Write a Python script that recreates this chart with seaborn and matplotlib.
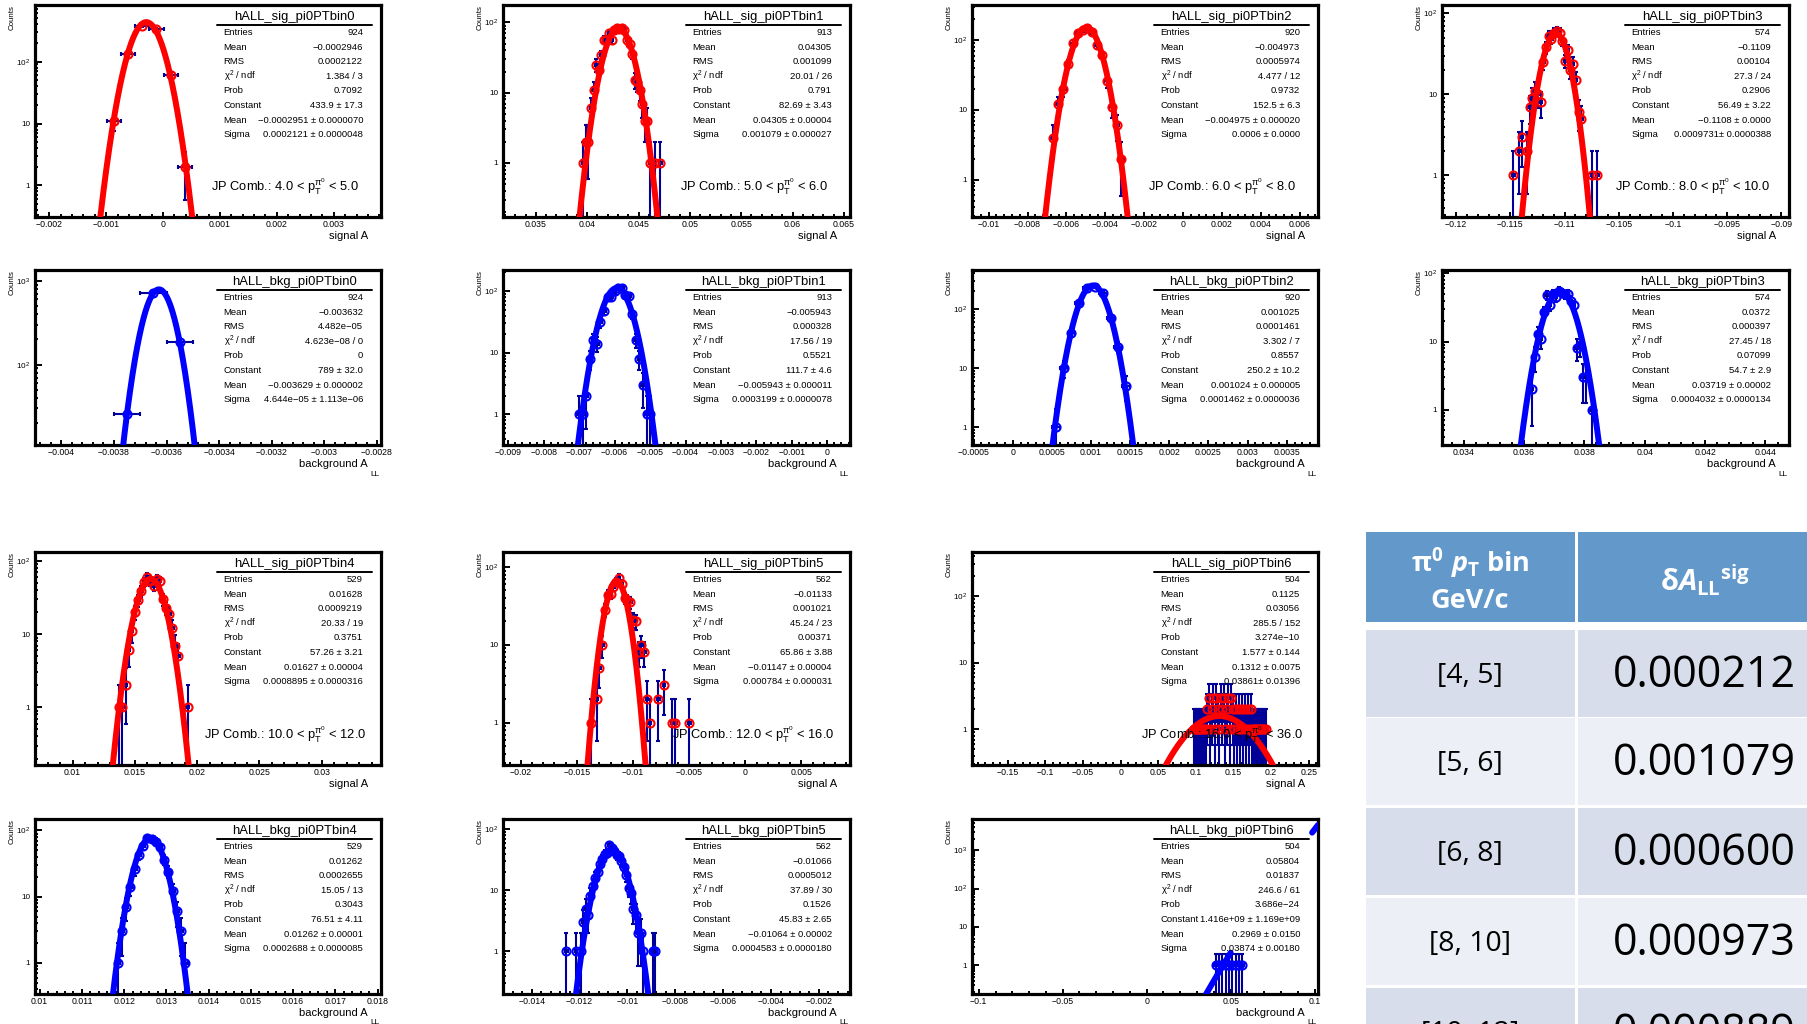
import numpy as np
import matplotlib
matplotlib.use("Agg")
import matplotlib.pyplot as plt
import seaborn as sns
from matplotlib.lines import Line2D
from matplotlib.patches import Rectangle
from matplotlib.ticker import (MultipleLocator, AutoMinorLocator, LogLocator,
                               FuncFormatter, NullFormatter)
from matplotlib.transforms import Bbox, TransformedBbox

M = "\u2212"

# ---------------- signal A_LL histograms: first-bin low edge, bin width, counts ----------------
sig0_lo, sig0_w = -0.00099, 0.00025
sig0_counts = [11, 135, 380, 335, 61, 2]
sig1_lo, sig1_w = 0.0395, 0.00025
sig1_counts = [1, 2, 2, 6, 11, 25, 21, 34, 56, 56, 70, 56, 78, 82, 80, 82, 78, 56, 50, 36,
               15, 14, 11, 7, 4, 4, 1, 0, 1, 0, 1]
sig2_lo, sig2_w = -0.006795, 0.00025
sig2_counts = [4, 12, 20, 46, 92, 125, 142, 151, 132, 85, 61, 26, 11, 6, 2]
sig3_lo, sig3_w = -0.114835, 0.00025
sig3_counts = [1, 0, 2, 3, 0, 2, 7, 9, 11, 10, 8, 25, 38, 53, 49, 58, 60, 58, 46, 26, 35, 20,
               24, 15, 6, 5, 0, 0, 0, 1, 0, 1]
sig4_lo, sig4_w = 0.013625, 0.00025
sig4_counts = [1, 1, 2, 6, 11, 20, 29, 39, 52, 60, 53, 46, 57, 53, 30, 23, 19, 12, 7, 5, 0, 0, 1]
sig5_lo, sig5_w = -0.013875, 0.00025
sig5_counts = [1, 0, 2, 5, 10, 28, 44, 45, 56, 65, 72, 60, 40, 37, 35, 21, 20, 8, 10, 8, 2, 1,
               0, 0, 2, 0, 3, 0, 0, 1, 1, 0, 0, 0, 0, 1]
sig6_lo, sig6_w = 0.096, 0.002
sig6_counts = [1, 1, 1, 1, 1, 1, 1, 1, 1, 2, 3, 1, 2, 3, 1, 3, 2, 1, 3, 2, 3, 1, 2, 3, 1, 3,
               2, 1, 2, 1, 2, 1, 2, 1, 2, 1, 2, 1, 2, 1, 1, 1, 1, 1, 1, 1, 1, 1, 1]

# ---------------- background A_LL histograms ----------------
bkg0_lo, bkg0_w = -0.0038, 0.0001
bkg0_counts = [26, 710, 188]
bkg1_lo, bkg1_w = -0.00705, 0.0001
bkg1_counts = [1, 1, 2, 8, 16, 14, 31, 47, 81, 81, 100, 114, 110, 85, 83, 42, 16, 8, 3, 1, 1]
bkg2_lo, bkg2_w = 0.0005, 0.0001
bkg2_counts = [1, 10, 40, 125, 230, 240, 185, 70, 23, 5]
bkg3_lo, bkg3_w = 0.0362, 0.0001
bkg3_counts = [2, 6, 13, 11, 27, 48, 34, 50, 45, 55, 52, 49, 50, 40, 34, 8, 9, 3, 3, 0, 1]
bkg4_lo, bkg4_w = 0.0118, 0.0001
bkg4_counts = [1, 3, 7, 14, 26, 42, 58, 76, 74, 68, 56, 36, 24, 12, 6, 3, 1]
bkg5_lo, bkg5_w = -0.0126, 0.0001
bkg5_counts = [1, 0, 0, 0, 1, 0, 1, 3, 5, 4, 8, 12, 16, 20, 27, 33, 40, 41, 55, 50, 44, 38, 36,
               30, 24, 18, 11, 9, 5, 4, 2, 2, 1, 0, 0, 0, 1, 1]
bkg6_lo, bkg6_w = 0.040, 0.002
bkg6_counts = [1, 1, 1, 1, 1, 1, 1, 1, 1]

# ---------------- Gaussian fit results: Constant, Mean, Sigma ----------------
sig_fits = [[433.9, -0.0002951, 0.0002121], [82.69, 0.04305, 0.001079],
            [152.5, -0.004975, 0.0006], [56.49, -0.1108, 0.0009731],
            [57.26, 0.01627, 0.0008895], [65.86, -0.01147, 0.000784],
            [1.577, 0.1312, 0.03861]]
bkg_fits = [[789.0, -0.003629, 4.644e-05], [111.7, -0.005943, 0.0003199],
            [250.2, 0.001024, 0.0001462], [54.7, 0.03719, 0.0004032],
            [76.51, 0.01262, 0.0002688], [45.83, -0.01064, 0.0004583],
            [1.416e9, 0.2969, 0.03874]]
# x intervals over which each background fit curve is painted (None = whole axis)
bkg_curve_spans = [None, None, None, None, None, None, [(0.034, 0.050), (0.0985, 0.104)]]

# ---------------- statistics box entries ----------------
stat_labels = ["Entries", "Mean", "RMS", r"$\mathregular{\chi^{2}}$ / ndf", "Prob",
               "Constant", "Mean", "Sigma"]
sig_stats = [
    ["924", M + "0.0002946", "0.0002122", "1.384 / 3", "0.7092", "433.9 ± 17.3",
     M + "0.0002951 ± 0.0000070", "0.0002121 ± 0.0000048"],
    ["913", "0.04305", "0.001099", "20.01 / 26", "0.791", "82.69 ± 3.43",
     "0.04305 ± 0.00004", "0.001079 ± 0.000027"],
    ["920", M + "0.004973", "0.0005974", "4.477 / 12", "0.9732", "152.5 ± 6.3",
     M + "0.004975 ± 0.000020", "0.0006 ± 0.0000"],
    ["574", M + "0.1109", "0.00104", "27.3 / 24", "0.2906", "56.49 ± 3.22",
     M + "0.1108 ± 0.0000", "0.0009731± 0.0000388"],
    ["529", "0.01628", "0.0009219", "20.33 / 19", "0.3751", "57.26 ± 3.21",
     "0.01627 ± 0.00004", "0.0008895 ± 0.0000316"],
    ["562", M + "0.01133", "0.001021", "45.24 / 23", "0.00371", "65.86 ± 3.88",
     M + "0.01147 ± 0.00004", "0.000784 ± 0.000031"],
    ["504", "0.1125", "0.03056", "285.5 / 152", "3.274e" + M + "10", "1.577 ± 0.144",
     "0.1312 ± 0.0075", "0.03861± 0.01396"],
]
bkg_stats = [
    ["924", M + "0.003632", "4.482e" + M + "05", "4.623e" + M + "08 / 0", "0", "789 ± 32.0",
     M + "0.003629 ± 0.000002", "4.644e" + M + "05 ± 1.113e" + M + "06"],
    ["913", M + "0.005943", "0.000328", "17.56 / 19", "0.5521", "111.7 ± 4.6",
     M + "0.005943 ± 0.000011", "0.0003199 ± 0.0000078"],
    ["920", "0.001025", "0.0001461", "3.302 / 7", "0.8557", "250.2 ± 10.2",
     "0.001024 ± 0.000005", "0.0001462 ± 0.0000036"],
    ["574", "0.0372", "0.000397", "27.45 / 18", "0.07099", "54.7 ± 2.9",
     "0.03719 ± 0.00002", "0.0004032 ± 0.0000134"],
    ["529", "0.01262", "0.0002655", "15.05 / 13", "0.3043", "76.51 ± 4.11",
     "0.01262 ± 0.00001", "0.0002688 ± 0.0000085"],
    ["562", M + "0.01066", "0.0005012", "37.89 / 30", "0.1526", "45.83 ± 2.65",
     M + "0.01064 ± 0.00002", "0.0004583 ± 0.0000180"],
    ["504", "0.05804", "0.01837", "246.6 / 61", "3.686e" + M + "24", "1.416e+09 ± 1.169e+09",
     "0.2969 ± 0.0150", "0.03874 ± 0.00180"],
]

# ---------------- pT bins of the signal panels ----------------
pt_low = ["4.0", "5.0", "6.0", "8.0", "10.0", "12.0", "16.0"]
pt_high = ["5.0", "6.0", "8.0", "10.0", "12.0", "16.0", "36.0"]

# ---------------- summary table ----------------
table_bins = ["[4, 5]", "[5, 6]", "[6, 8]", "[8, 10]", "[10, 12]"]
table_sigma = ["0.000212", "0.001079", "0.000600", "0.000973", "0.000889"]

# ---------------- axis ranges and major tick spacing ----------------
sig_xlims = [(-0.00225, 0.00383), (0.0318, 0.0656), (-0.01086, 0.00694), (-0.1213, -0.0893),
             (0.00698, 0.03476), (-0.02158, 0.00932), (-0.1976, 0.2623)]
sig_ylims = [(0.31, 820), (0.17, 177), (0.29, 320), (0.307, 127),
             (0.163, 133), (0.285, 156), (0.29, 462)]
sig_xsteps = [0.001, 0.005, 0.002, 0.005, 0.005, 0.005, 0.05]
bkg_xlims = [(-0.0041, -0.002785), (-0.00915, 0.00064), (-0.00052, 0.0039), (0.03328, 0.04478),
             (0.00989, 0.01808), (-0.0152, -0.0007), (-0.104, 0.102)]
bkg_ylims = [(11, 1343), (0.32, 219), (0.5, 457), (0.305, 112),
             (0.34, 149), (0.2, 148), (0.18, 6460)]
bkg_xsteps = [0.0002, 0.001, 0.0005, 0.002, 0.001, 0.002, 0.05]

sig_hists = [(sig0_lo, sig0_w, sig0_counts), (sig1_lo, sig1_w, sig1_counts),
             (sig2_lo, sig2_w, sig2_counts), (sig3_lo, sig3_w, sig3_counts),
             (sig4_lo, sig4_w, sig4_counts), (sig5_lo, sig5_w, sig5_counts),
             (sig6_lo, sig6_w, sig6_counts)]
bkg_hists = [(bkg0_lo, bkg0_w, bkg0_counts), (bkg1_lo, bkg1_w, bkg1_counts),
             (bkg2_lo, bkg2_w, bkg2_counts), (bkg3_lo, bkg3_w, bkg3_counts),
             (bkg4_lo, bkg4_w, bkg4_counts), (bkg5_lo, bkg5_w, bkg5_counts),
             (bkg6_lo, bkg6_w, bkg6_counts)]

# ---------------- style ----------------
sns.set_theme(style="white")
plt.rcParams["font.family"] = ["Liberation Sans", "DejaVu Sans"]
plt.rcParams["mathtext.fontset"] = "custom"
plt.rcParams["mathtext.rm"] = "Open Sans:bold"
plt.rcParams["mathtext.it"] = "Open Sans:italic:bold"
plt.rcParams["mathtext.bf"] = "Open Sans:bold"

W, H = 1808, 1024
fig = plt.figure(figsize=(W / 100, H / 100), dpi=100)
fig.patch.set_facecolor("white")

NAVY = "#000099"


def xfmt(v, pos):
    s = f"{round(v, 8):.8g}"
    if s in ("-0", "0.0", "-0.0"):
        s = "0"
    return s.replace("-", M)


def yfmt(v, pos):
    e = int(round(np.log10(v)))
    if e == 0:
        return "1"
    if e == 1:
        return "10"
    return r"$\mathregular{10^{%d}}$" % e


def draw_panel(box, name, kind, hist, fit, stats, xlim, ylim, xstep, jp=None, spans=None):
    l, t, r, b = box
    w, h = r - l, b - t
    ax = fig.add_axes([l / W, 1 - b / H, w / W, h / H])
    lo, width, counts = hist
    counts = np.asarray(counts, float)
    centers = lo + width * (np.arange(len(counts)) + 0.5)
    keep = counts > 0
    xc, yc = centers[keep], counts[keep]
    err = np.sqrt(yc)
    lower = np.where(err >= yc, yc - 1e-9, err)
    mcol = "#FF0000" if kind == "sig" else "#0000FF"

    ax.errorbar(xc, yc, yerr=[lower, err], xerr=width / 2, fmt="none", ecolor=NAVY,
                elinewidth=1.5, capsize=1.6, capthick=1.5, zorder=2)
    ax.plot(xc, yc, "o", ms=5.8, mfc="none", mec=mcol, mew=1.5, zorder=3)

    amp, mu, sg = fit
    for (x0, x1) in (spans if spans else [xlim]):
        xs = np.linspace(x0, x1, 2000)
        ys = amp * np.exp(-0.5 * ((xs - mu) / sg) ** 2)
        ys = np.maximum(ys, ylim[0] * 1e-3)
        sns.lineplot(x=xs, y=ys, ax=ax, color=mcol, lw=4.3, estimator=None, sort=False,
                     legend=False, zorder=4)

    ax.set_yscale("log")
    ax.set_xlim(xlim)
    ax.set_ylim(ylim)
    ax.set_xlabel("")
    ax.set_ylabel("")
    ax.set_facecolor("white")
    for s in ax.spines.values():
        s.set_linewidth(2.3)
        s.set_color("black")
        s.set_visible(True)

    ax.xaxis.set_major_locator(MultipleLocator(xstep))
    ax.xaxis.set_minor_locator(AutoMinorLocator(5))
    ax.xaxis.set_major_formatter(FuncFormatter(xfmt))
    ax.yaxis.set_major_locator(LogLocator(base=10, numticks=20))
    ax.yaxis.set_minor_locator(LogLocator(base=10, subs=np.arange(2, 10), numticks=100))
    ax.yaxis.set_minor_formatter(NullFormatter())
    ax.yaxis.set_major_formatter(FuncFormatter(yfmt))
    ax.tick_params(axis="both", which="both", direction="in", bottom=True, left=True,
                   top=False, right=False, color="black", labelcolor="black")
    ax.tick_params(axis="x", which="major", length=3.6, width=1.4, labelsize=6.3, pad=2.5)
    ax.tick_params(axis="x", which="minor", length=2.0, width=1.4)
    ax.tick_params(axis="y", which="major", length=4.8, width=1.4, labelsize=5.9, pad=3.5)
    ax.tick_params(axis="y", which="minor", length=2.4, width=1.4)

    # y-axis title
    fig.text((l - 23) / W, 1 - t / H, "Counts", rotation=90, ha="center", va="top",
             fontsize=5.7, color="black")

    # statistics box
    fig.text((l + 0.75 * w) / W, 1 - (t + 12) / H, name, ha="center", va="center",
             fontsize=9.4, color="black")
    fig.add_artist(Line2D([(l + 0.527 * w) / W, (l + 0.974 * w) / W],
                          [1 - (t + 20) / H] * 2, color="black", lw=1.4))
    for k, (lab, val) in enumerate(zip(stat_labels, stats)):
        yy = 1 - (t + 27.5 + 14.6 * k) / H
        fig.text((l + 0.545 * w) / W, yy, lab, ha="left", va="center", fontsize=6.8,
                 color="black")
        fig.text((l + 0.948 * w) / W, yy, val, ha="right", va="center", fontsize=6.8,
                 color="black")

    if jp is not None:
        fig.text((l + 0.722 * w) / W, 1 - (b - 0.14 * h) / H, jp, ha="center",
                 va="center", fontsize=9.3, color="black")

    # x-axis title: "A" with a low-set "LL" subscript
    main = ("signal" if kind == "sig" else "background") + " A"
    t1 = fig.text((r - 13) / W, 1 - (b + 22) / H, main, ha="right", va="baseline",
                  fontsize=8.0, color="black")
    t2 = fig.text((r - 10.5) / W, 1 - (b + 30.5) / H, "LL", ha="left", va="baseline",
                  fontsize=6.0, color="black")
    if kind == "sig":
        clip = TransformedBbox(Bbox.from_extents(0, 1 - (b + 26) / H, 1, 1), fig.transFigure)
        for tx in (t1, t2):
            tx.set_clip_box(clip)
            tx.set_clip_on(True)
    return ax


cols = [(35, 381), (503, 850), (972, 1318), (1442, 1789)]
sig_rows = [(5, 217), (552, 765)]
bkg_rows = [(270, 445), (819, 994)]

for i in range(7):
    block = i // 4
    c = cols[i % 4]
    st, sb = sig_rows[block]
    bt, bb = bkg_rows[block]
    jp = ("JP Comb.: " + pt_low[i] + r" < $\mathregular{p_{T}^{\pi^{0}}}$ < " + pt_high[i])
    draw_panel((c[0], st, c[1], sb), f"hALL_sig_pi0PTbin{i}", "sig", sig_hists[i],
               sig_fits[i], sig_stats[i], sig_xlims[i], sig_ylims[i], sig_xsteps[i], jp)
    draw_panel((c[0], bt, c[1], bb), f"hALL_bkg_pi0PTbin{i}", "bkg", bkg_hists[i],
               bkg_fits[i], bkg_stats[i], bkg_xlims[i], bkg_ylims[i], bkg_xsteps[i],
               spans=bkg_curve_spans[i])

# ---------------- summary table of the fitted signal widths ----------------
HDR = "#6398CB"
ROW_COLORS = ["#D7DDEB", "#ECEFF6"]


def cell(x0, y0, x1, y1, color):
    fig.add_artist(Rectangle((x0 / W, 1 - y1 / H), (x1 - x0) / W, (y1 - y0) / H,
                             transform=fig.transFigure, facecolor=color, edgecolor="none",
                             zorder=0))


c1, c2 = (1366, 1575), (1578, 1850)
cell(c1[0], 532, c1[1], 622, HDR)
cell(c2[0], 532, c2[1], 622, HDR)
fig.text(1470 / W, 1 - 563 / H, r"$\mathrm{\pi^{0}}\ \mathit{p}_{\mathrm{T}}$ bin",
         family="Open Sans", weight="bold", color="white", fontsize=19.5,
         ha="center", va="center")
fig.text(1470 / W, 1 - 601 / H, "GeV/c", family="Open Sans", weight="bold",
         color="white", fontsize=19.5, ha="center", va="center")
fig.text(1705 / W, 1 - 580 / H,
         r"$\mathrm{\delta}\mathit{A}_{\mathrm{LL}}{}^{\mathrm{sig}}$",
         family="Open Sans", weight="bold", color="white", fontsize=21,
         ha="center", va="center")

row_tops = [630, 718, 808, 898, 988]
for k, top in enumerate(row_tops):
    col = ROW_COLORS[k % 2]
    cell(c1[0], top, c1[1], top + 87, col)
    cell(c2[0], top, c2[1], top + 87, col)
    fig.text(1470 / W, 1 - (top + 46) / H, table_bins[k], family="Open Sans",
             color="black", fontsize=20.5, ha="center", va="center")
    fig.text(1704 / W, 1 - (top + 46) / H, table_sigma[k], family="Open Sans",
             color="black", fontsize=31, ha="center", va="center")

fig.savefig("out.png", dpi=100, facecolor="white")
